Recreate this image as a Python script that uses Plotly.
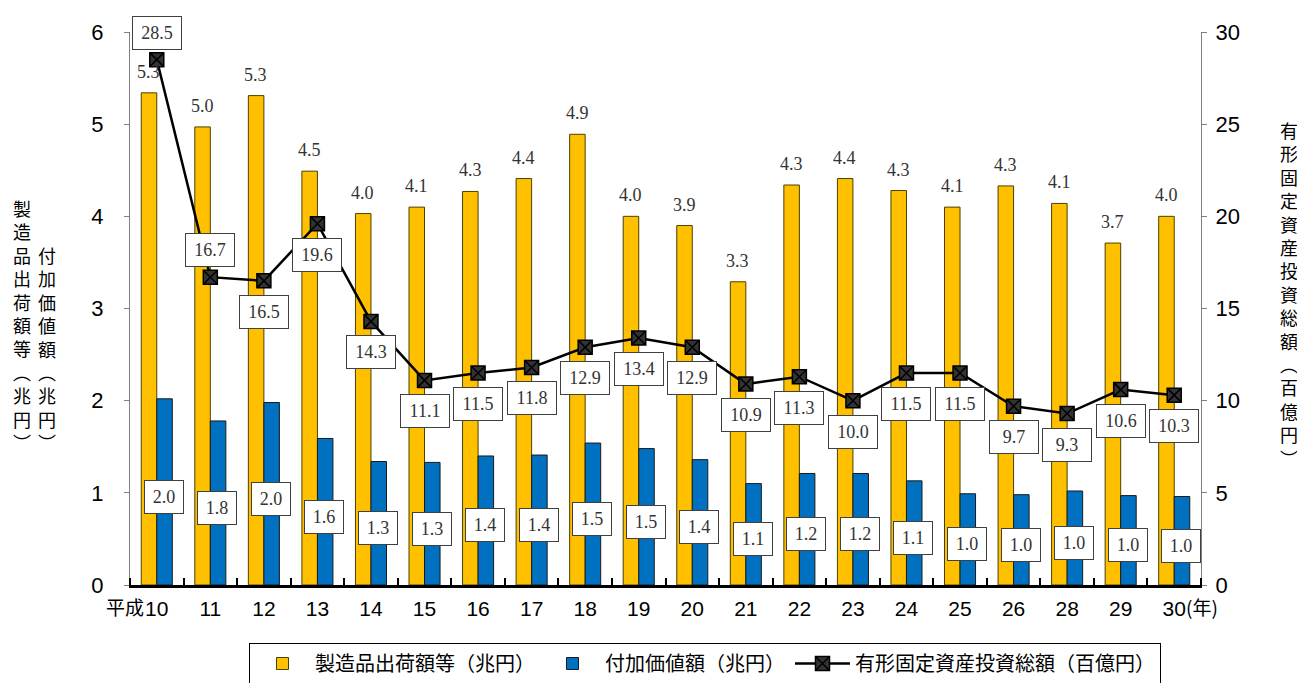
import plotly.graph_objects as go

categories = ["10", "11", "12", "13", "14", "15", "16", "17", "18", "19",
              "20", "21", "22", "23", "24", "25", "26", "28", "29", "30"]
shipments = [5.34, 4.97, 5.31, 4.49, 4.03, 4.10, 4.27, 4.41, 4.89, 4.00,
             3.90, 3.29, 4.34, 4.41, 4.28, 4.10, 4.33, 4.14, 3.71, 4.00]
value_added = [2.02, 1.78, 1.98, 1.59, 1.34, 1.33, 1.40, 1.41, 1.54, 1.48,
               1.36, 1.10, 1.21, 1.21, 1.13, 0.99, 0.98, 1.02, 0.97, 0.96]
investment = [28.5, 16.7, 16.5, 19.6, 14.3, 11.1, 11.5, 11.8, 12.9, 13.4,
              12.9, 10.9, 11.3, 10.0, 11.5, 11.5, 9.7, 9.3, 10.6, 10.3]
left_ticks = [0, 1, 2, 3, 4, 5, 6]
right_ticks = [0, 5, 10, 15, 20, 25, 30]

name_ship = "製造品出荷額等（兆円）"
name_va = "付加価値額（兆円）"
name_inv = "有形固定資産投資総額（百億円）"

# label placement style for the line labels (above/below marker)
inv_label_side = ["above", "above"] + ["below"] * (len(categories) - 2)

SANS = "Liberation Sans, Noto Sans CJK JP, sans-serif"
CJK = "Noto Sans CJK JP, sans-serif"
SERIF = "Liberation Serif, DejaVu Serif, serif"

idx = list(range(len(categories)))
boundaries = [i - 0.5 for i in range(len(categories) + 1)]

W, H = 1297, 675  # page body has an 8px margin

fig = go.Figure()
fig.add_trace(go.Bar(
    x=idx, y=shipments, name=name_ship,
    marker=dict(color="#FFC000", line=dict(color="#4a4000", width=1)),
))
fig.add_trace(go.Bar(
    x=idx, y=value_added, name=name_va,
    marker=dict(color="#0070C0", line=dict(color="#1a1a1a", width=1)),
))
fig.add_trace(go.Scatter(
    x=idx, y=investment, name=name_inv, yaxis="y2",
    mode="lines+markers",
    line=dict(color="black", width=2.5),
    marker=dict(symbol="square-x", size=14, color="#333333",
                line=dict(color="black", width=1.5)),
))

annotations = []
for i, v in zip(idx, shipments):
    annotations.append(dict(
        x=i, y=v, xref="x", yref="y", text=f"{v:.1f}", showarrow=False,
        xshift=-8, yshift=21, yanchor="middle",
        font=dict(family=SERIF, size=18, color="#333333"),
    ))
for i, v in zip(idx, value_added):
    annotations.append(dict(
        x=i, y=v / 2, xref="x", yref="y", text=f"{v:.1f}", showarrow=False,
        xshift=7, yshift=-5, yanchor="middle",
        width=34, height=28, borderpad=2,
        bgcolor="white", bordercolor="#404040", borderwidth=1,
        font=dict(family=SERIF, size=18, color="#333333"),
    ))
for i, v, side in zip(idx, investment, inv_label_side):
    annotations.append(dict(
        x=i, y=v, xref="x", yref="y2", text=f"{v:.1f}", showarrow=False,
        yshift=27 if side == "above" else -31, yanchor="middle",
        width=44, height=28, borderpad=2,
        bgcolor="white", bordercolor="#404040", borderwidth=1,
        font=dict(family=SERIF, size=18, color="#333333"),
    ))
annotations.append(dict(
    x=idx[0], y=0, xref="x", yref="paper", text="平成", showarrow=False,
    xanchor="right", yanchor="top", xshift=-11, yshift=-6,
    font=dict(family=CJK, size=19, color="black"),
))
annotations.append(dict(
    x=idx[-1], y=0, xref="x", yref="paper", text="(年)", showarrow=False,
    xanchor="left", yanchor="top", xshift=10, yshift=-6,
    font=dict(family=CJK, size=19, color="black"),
))


def vtext(s):
    return "<br>".join(list(s))


annotations.append(dict(
    x=-0.1008, y=0.232, xref="paper", yref="paper", text=vtext("製造品出荷額等︵兆円︶"),
    showarrow=False, xanchor="center", yanchor="bottom", align="center",
    font=dict(family=CJK, size=18, color="black"),
))
annotations.append(dict(
    x=-0.0775, y=0.232, xref="paper", yref="paper", text=vtext("付加価値額︵兆円︶"),
    showarrow=False, xanchor="center", yanchor="bottom", align="center",
    font=dict(family=CJK, size=18, color="black"),
))
annotations.append(dict(
    x=1.082, y=0.527, xref="paper", yref="paper", text=vtext("有形固定資産投資総額︵百億円︶"),
    showarrow=False, xanchor="center", yanchor="middle", align="center",
    font=dict(family=CJK, size=18, color="black"),
))

fig.update_layout(
    width=W, height=H,
    margin=dict(l=122, r=104, t=17, b=98),
    paper_bgcolor="white", plot_bgcolor="white",
    barmode="group", bargap=0.42, bargroupgap=0,
    font=dict(family=SANS, color="black"),
    showlegend=True,
    legend=dict(
        orientation="h", xref="container", yref="container",
        x=697 / W, xanchor="center", y=1 - 635 / H, yanchor="top",
        bordercolor="black", borderwidth=1, bgcolor="white",
        font=dict(family=CJK, size=20, color="black"),
        itemwidth=55, traceorder="normal",
    ),
    xaxis=dict(
        range=[-0.5, len(categories) - 0.5],
        tickmode="array", tickvals=idx, ticktext=categories,
        ticks="", ticklabelstandoff=3,
        minor=dict(tickmode="array", tickvals=boundaries, ticks="inside",
                   ticklen=7, tickwidth=2, tickcolor="black", showgrid=False),
        showline=True, linecolor="black", linewidth=2.5,
        tickfont=dict(family=SANS, size=21, color="black"),
        showgrid=False, zeroline=False, fixedrange=True,
    ),
    yaxis=dict(
        range=[0, 6], tickmode="array", tickvals=left_ticks,
        showline=True, linecolor="#808080", linewidth=1,
        ticks="outside", ticklen=5, tickcolor="#808080",
        ticklabelstandoff=16,
        tickfont=dict(family=SANS, size=22, color="black"),
        showgrid=False, zeroline=False,
    ),
    yaxis2=dict(
        range=[0, 30], tickmode="array", tickvals=right_ticks,
        overlaying="y", side="right",
        showline=True, linecolor="#808080", linewidth=1,
        ticks="outside", ticklen=5, tickcolor="#808080",
        ticklabelstandoff=4,
        tickfont=dict(family=SANS, size=22, color="black"),
        showgrid=False, zeroline=False,
    ),
    annotations=annotations,
)

fig.write_html("out.html")
